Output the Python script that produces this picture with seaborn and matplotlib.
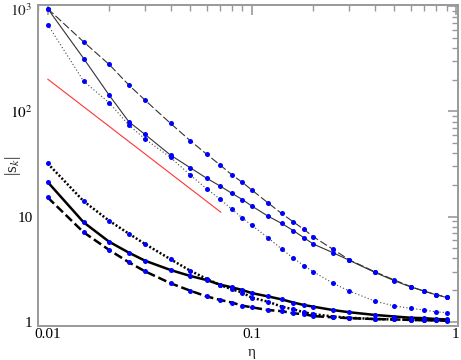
import numpy as np
import pandas as pd
import matplotlib
matplotlib.use("Agg")
import matplotlib.pyplot as plt
import matplotlib.transforms as mtransforms
import seaborn as sns
from matplotlib.ticker import LogLocator, FixedLocator, FixedFormatter, NullFormatter

eta = [0.01, 0.015, 0.02, 0.025, 0.03, 0.04, 0.05, 0.06, 0.07, 0.08, 0.09, 0.1,
       0.12, 0.14, 0.16, 0.18, 0.2, 0.25, 0.3, 0.4, 0.5, 0.6, 0.7, 0.8, 0.9]

s_dash_thin = [950, 459, 280, 178, 128, 76.9, 52.6, 39.3, 30.9, 24.9, 21.1, 17.9,
               13.5, 10.7, 8.87, 7.55, 6.43, 4.88, 3.88, 2.99, 2.49, 2.16, 1.95, 1.81, 1.72]
s_solid_thin = [950, 319, 143, 79.6, 60.4, 38.4, 29.1, 23.2, 19.5, 16.6, 14.5, 12.6,
                10.1, 8.61, 7.33, 6.29, 5.48, 4.53, 3.84, 2.95, 2.45, 2.14, 1.95, 1.80, 1.70]
s_dot_thin = [671, 194, 121, 74.1, 54.6, 36.5, 24.8, 18.4, 14.6, 11.7, 9.68, 8.25,
              6.3, 4.91, 4.01, 3.41, 2.99, 2.32, 1.96, 1.57, 1.41, 1.34, 1.29, 1.24, 1.22]
s_dot_thick = [32.0, 14.0, 9.12, 6.87, 5.48, 3.92, 3.05, 2.56, 2.23, 2.03, 1.89, 1.69,
               1.55, 1.39, 1.31, 1.23, 1.18, 1.12, 1.09, 1.06, 1.05, 1.04, 1.04, 1.03, 1.03]
s_solid_thick = [21.3, 8.81, 5.76, 4.53, 3.80, 3.10, 2.72, 2.49, 2.25, 2.12, 2.00, 1.87,
                 1.74, 1.63, 1.52, 1.44, 1.39, 1.29, 1.23, 1.16, 1.12, 1.09, 1.08, 1.06, 1.05]
s_dash_thick = [15.2, 7.08, 4.81, 3.67, 3.01, 2.32, 1.97, 1.74, 1.61, 1.52, 1.42, 1.37,
                1.29, 1.26, 1.20, 1.18, 1.13, 1.10, 1.08, 1.06, 1.05, 1.04, 1.03, 1.03, 1.02]

ref_eta = [0.01, 0.0705]
ref_s = [203, 11.0]

x_ticks = [0.01, 0.1, 1]
x_labels = ["0.01", "0.1", "1"]
y_ticks = [1, 10, 100]
y_labels = ["1", "10", r"$10^2$"]
y_top_tick = 1000
y_top_label = r"$10^3$"

sns.set_theme(style="white")
plt.rcParams["font.family"] = ["Liberation Serif", "DejaVu Serif"]
plt.rcParams["mathtext.fontset"] = "stix"

fig = plt.figure(figsize=(4.61, 3.60), dpi=100)
ax = fig.add_axes([0.0824, 0.0953, 0.911, 0.8908])

series = [
    (s_dash_thin, "#333333", 0.8, (0, (7, 2.5))),
    (s_solid_thin, "#333333", 0.8, "-"),
    (s_dot_thin, "#444444", 0.8, (0, (1, 2))),
    (s_dot_thick, "black", 1.8, (0, (0.8, 0.8))),
    (s_solid_thick, "black", 1.8, "-"),
    (s_dash_thick, "black", 1.8, (0, (3.5, 1.5))),
]

for vals, col, lw, ls in series:
    df = pd.DataFrame({"eta": eta, "s": vals})
    sns.lineplot(data=df, x="eta", y="s", ax=ax, color=col, linewidth=lw,
                 linestyle=ls, estimator=None, sort=False, legend=False,
                 marker="o", markersize=3.6, markerfacecolor="#0000ff",
                 markeredgecolor="#0000ff", markeredgewidth=0)

df_ref = pd.DataFrame({"eta": ref_eta, "s": ref_s})
sns.lineplot(data=df_ref, x="eta", y="s", ax=ax, color="#ff3333", linewidth=0.8,
             estimator=None, sort=False, legend=False)

ax.set_xscale("log")
ax.set_yscale("log")
ax.set_xlim(0.00896, 1.023)
ax.set_ylim(0.916, 1030)

ax.xaxis.set_major_locator(FixedLocator(x_ticks))
ax.xaxis.set_major_formatter(FixedFormatter(x_labels))
ax.xaxis.set_minor_locator(LogLocator(base=10, subs=np.arange(2, 10)))
ax.xaxis.set_minor_formatter(NullFormatter())
ax.yaxis.set_major_locator(FixedLocator(y_ticks + [y_top_tick]))
ax.yaxis.set_major_formatter(FixedFormatter(y_labels + [""]))
ax.yaxis.set_minor_locator(LogLocator(base=10, subs=np.arange(2, 10)))
ax.yaxis.set_minor_formatter(NullFormatter())

ax.tick_params(which="both", direction="in", top=True, right=True, color="#999999",
               labelsize=11, labelcolor="black")
ax.tick_params(which="major", length=7, width=1.2)
ax.tick_params(axis="x", which="major", pad=1.5)
ax.tick_params(axis="y", which="major", pad=4)
ax.tick_params(which="minor", length=4, width=1.0)
for sp in ax.spines.values():
    sp.set_color("#999999")
    sp.set_linewidth(1.4)

# top y label placed slightly lower so it is not clipped by the figure edge
trans = mtransforms.blended_transform_factory(ax.transAxes, ax.transData)
trans = trans + mtransforms.ScaledTranslation(-4 / 72, -3 / 72, fig.dpi_scale_trans)
ax.text(0, y_top_tick, y_top_label, transform=trans, ha="right", va="center",
        fontsize=11)

ax.set_xlabel("η", fontsize=11, va="bottom")
ax.xaxis.set_label_coords(0.51, -0.1045)
ax.set_ylabel(r"|s$_k$|", fontsize=12.5)
ax.yaxis.set_label_coords(-0.036, 0.5)

fig.savefig("out.png", dpi=100)
